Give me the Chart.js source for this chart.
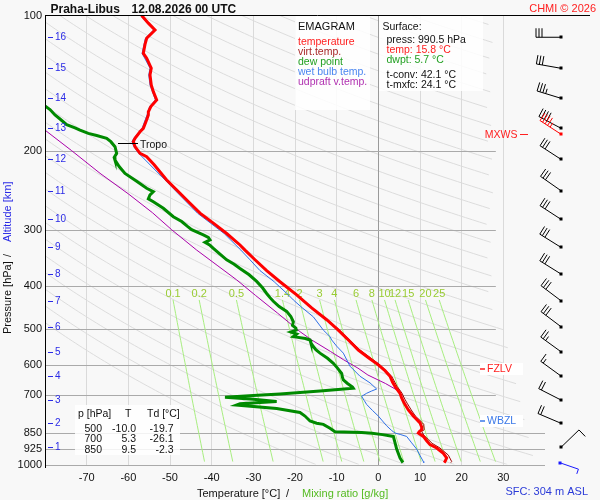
<!DOCTYPE html>
<html>
<head>
<meta charset="utf-8">
<title>Praha-Libus emagram</title>
<script src="https://cdn.jsdelivr.net/npm/chart.js@4.4.1/dist/chart.umd.min.js"></script>
<style>
  html, body { margin: 0; padding: 0; background: #f8f8f8; }
  canvas { display: block; }
</style>
</head>
<body>
<canvas id="emagram" width="600" height="500"></canvas>
<script>
// ---- sounding data (pressure hPa / temperature degC) ----
const tempP = [100,104,107.7,112.4,116,121.4,124.5,131,135.7,142.8,147.8,154.2,159.5,163.8,166.5,170.7,178.4,181.5,187.7,190.9,195.9,202.8,206.2,215,232.4,248.8,262,275.6,290,305.9,324.4,333,350,370,391.7,419,448,476,500,530,556,580,600,618,636,655,670,694,711,730,756,780,808,825,837,845,851,866,885,903,919,944,967,985,990.5];
const tempT = [-56.8,-55.2,-53.6,-55.6,-56.0,-56.4,-55.6,-54.5,-54.8,-54.5,-54.0,-53.2,-54.6,-55.2,-55.2,-55.6,-56.4,-57.2,-58.4,-58.8,-58.4,-57.2,-55.6,-53.8,-50.8,-47.6,-45.2,-42.8,-39.6,-36.4,-33.2,-32.0,-29.6,-26.8,-23.6,-19.6,-16.0,-12.4,-9.8,-7.0,-4.8,-2.2,0.0,1.6,2.8,3.4,4.0,5.2,5.6,6.2,7.2,8.4,10.0,10.4,10.4,9.8,9.6,10.8,11.6,12.4,14.0,15.6,16.4,16.0,15.8];

const virtP = [333,350,370,391.7,419,448,476,500,530,556,600,636,670,694,711,730,756,780,808,814,837,844,860,880,897,919,953,985,990.5];
const virtT = [-31.9,-29.5,-26.7,-23.4,-19.4,-15.8,-12.2,-9.5,-6.7,-4.4,0.4,3.2,4.5,5.7,6.2,6.9,7.9,8.9,10.6,10.9,11.0,10.4,10.9,12.0,12.9,14.8,16.8,17.6,17.4];

const dewP = [152,159,162,166.5,170,175,178,180,183,185,187.7,191,196,202.8,207,210,217,224.8,234,242.6,246.9,251,256,260,268.8,280.6,287.7,295,300,308,312,316,320,325,330,340,350,358,366,378,391,404,416,425,433,445,456,468,481,490,497,502,507,512,519,524,528,536,546,555,565,580,595,610,627,640,648,660,672,676.5,686,696.6,702,708.6,715.7,724,732.5,737,750,766,780,800,809,814,830,845,849,852,858,866,894,924,967,990.5];
const dewT = [-83.5,-80.0,-78.8,-77.6,-76.4,-74.8,-72.8,-71.6,-69.6,-67.6,-65.2,-64.2,-63.2,-62.8,-63.4,-63.2,-62.2,-60.8,-58.0,-55.6,-54.0,-54.8,-55.2,-54.0,-51.6,-49.2,-47.2,-45.8,-44.8,-42.0,-40.8,-40.4,-41.6,-40.4,-39.6,-38.0,-36.4,-34.6,-33.2,-31.0,-29.2,-27.8,-26.8,-26.0,-25.2,-23.8,-22.0,-21.0,-20.4,-20.6,-19.8,-19.7,-21.0,-19.6,-20.4,-17.5,-16.4,-16.2,-15.6,-15.0,-14.0,-12.2,-10.8,-9.8,-8.8,-8.6,-8.4,-7.4,-6.2,-6.0,-14.0,-23.6,-30.0,-36.8,-30.0,-24.4,-33.2,-34.0,-24.4,-18.8,-17.6,-16.4,-14.8,-13.2,-11.6,-10.4,-4.0,-1.5,1.0,3.6,4.0,4.4,5.2,5.9];

const wetP = [100,107.7,112.4,121.4,131,135.7,142.8,154.2,159.5,166.5,178.4,187.7,190.9,195.9,202.8,232.4,248.8,275.6,305.9,333,350,370,391.7,419,430,445,469,502,519,528,545,565,604,636,658,679,686,694,705,720,735,758,780,800,820,840,851,858,866,895,924,955,985,990.5];
const wetT = [-57.1,-53.9,-55.9,-56.7,-54.8,-55.1,-54.8,-53.5,-54.9,-55.5,-56.7,-58.7,-59.1,-58.7,-57.5,-51.2,-48.1,-43.4,-37.0,-33.0,-30.8,-28.4,-25.0,-21.6,-20.4,-18.6,-15.6,-13.2,-11.6,-11.2,-10.0,-8.4,-6.8,-4.4,-2.0,-0.4,-1.6,-2.8,-4.0,-3.4,-2.8,-1.4,0.0,1.0,2.0,3.2,4.0,5.4,6.8,8.0,9.2,10.0,10.8,10.9];

const updP = [165,180,200,224.6,250,275,300,333,360,388,420,460,506,528,560,584,610,632,660,682,690];
const updT = [-85.0,-80.0,-73.6,-66.8,-59.9,-54.2,-49.6,-43.6,-38.7,-34.0,-29.5,-24.2,-18.8,-16.0,-11.5,-8.4,-4.9,-2.5,1.7,4.4,5.0];

// axes
const xTicks = [-70, -60, -50, -40, -30, -20, -10, 0, 10, 20, 30];
const pTicks = [100, 200, 300, 400, 500, 600, 700, 850, 925, 1000];

// altitude marks (km) and the pressure they sit at
const altKm = [1, 2, 3, 4, 5, 6, 7, 8, 9, 10, 11, 12, 13, 14, 15, 16];
const altP = [915.6, 809.5, 718.4, 635.3, 560.9, 493.3, 431.8, 376.5, 328.4, 284.4, 245.6, 209.1, 178.3, 152.9, 131.1, 111.8];

// wind at each km level: direction (deg) and speed (kt)
const windDir = [46, 293, 297, 306, 306, 307, 307, 302, 302, 303, 305, 303, 298, 287, 280, 270];
const windSpd = [10, 20, 20, 15, 25, 30, 30, 30, 30, 30, 30, 30, 40, 35, 30, 30];
const sfcWind = { p: 990.5, dir: 109, spd: 3 };
const maxWind = { p: 183.8, dir: 303, spd: 45 };

// mixing ratio lines (g/kg)
const mixRatios = [0.1, 0.2, 0.5, 1.4, 2, 3, 4, 6, 8, 10, 12, 15, 20, 25];

// levels
const tropoP = 192.6;
const fzlvP = 614;
const wbzlP = 799;

// surface info and table
const sfcPress = 990.5, sfcTemp = 15.8, sfcDwpt = 5.7, tConv = 42.1, tMxfc = 24.1;
const tableP = [500, 700, 850];
const tableT = [-10.0, 5.3, 9.5];
const tableTd = [-19.7, -26.1, -2.3];

const FONT = '"Liberation Sans", Arial, sans-serif';

function pts(ps, ts) {
  return ps.map((p, i) => ({ x: ts[i], y: p }));
}

// temperature of a mixing-ratio line at pressure p
function mixT(w, p) {
  const e = w * p / (622 + w);
  const l = Math.log(e / 6.112);
  return 243.5 * l / (17.67 - l);
}

function barb(ctx, x0, y0, dir, spd, color, len) {
  const r = dir * Math.PI / 180;
  const ux = Math.sin(r), uy = -Math.cos(r);
  const bx = -uy, by = ux;
  const tx = x0 + ux * len, ty = y0 + uy * len;
  ctx.strokeStyle = color;
  ctx.fillStyle = color;
  ctx.lineWidth = 1;
  ctx.beginPath();
  ctx.moveTo(x0, y0);
  ctx.lineTo(tx, ty);
  let s = Math.round(spd / 5) * 5, pos = 0;
  while (s >= 10) {
    const px = tx - ux * pos, py = ty - uy * pos;
    ctx.moveTo(px, py);
    ctx.lineTo(px + bx * 9, py + by * 9);
    pos += 3;
    s -= 10;
  }
  if (s >= 5) {
    const px = tx - ux * pos, py = ty - uy * pos;
    ctx.moveTo(px, py);
    ctx.lineTo(px + bx * 5, py + by * 5);
  }
  ctx.stroke();
  ctx.fillRect(Math.round(x0) - 1.5, Math.round(y0) - 1.5, 3, 3);
}

const emagramPlugin = {
  id: 'emagram',
  beforeDraw(chart) {
    const { ctx, chartArea: a, scales: { x, y } } = chart;
    ctx.save();
    ctx.fillStyle = '#f8f8f8';
    ctx.fillRect(0, 0, chart.width, chart.height);

    // grey diagonal guide lines
    ctx.beginPath();
    ctx.rect(a.left, a.top, a.right - a.left, a.bottom - a.top);
    ctx.clip();
    ctx.strokeStyle = '#dcdcdc';
    ctx.lineWidth = 1;
    for (let c = 150; c < 1300; c *= Math.exp(0.0668)) {
      ctx.beginPath();
      let first = true;
      for (let lp = 2; lp <= 3.0001; lp += 0.005) {
        const p = Math.pow(10, lp);
        const t = c * Math.pow(p / 1000, 0.78) - 165;
        const tmax = p <= 400 ? 27.5 : 27.5 + 10.5 * Math.log(p / 400) / Math.log(2.5);
        if (t > tmax) break;
        const px = x.getPixelForValue(t), py = y.getPixelForValue(p);
        if (first) { ctx.moveTo(px, py); first = false; } else ctx.lineTo(px, py);
      }
      ctx.stroke();
    }
    ctx.restore();
  },
  beforeDatasetsDraw(chart) {
    const { ctx, chartArea: a, scales: { x, y } } = chart;
    ctx.save();
    // pressure lines
    ctx.strokeStyle = '#aaaaaa';
    ctx.lineWidth = 1;
    pTicks.slice(1).forEach(p => {
      const py = Math.round(y.getPixelForValue(p)) + 0.5;
      ctx.beginPath();
      ctx.moveTo(a.left, py);
      ctx.lineTo(p >= 850 ? a.right : x.getPixelForValue(28.2), py);
      ctx.stroke();
    });

    // mixing ratio lines
    ctx.strokeStyle = '#a8ee80';
    ctx.fillStyle = '#99cc33';
    ctx.font = '11px ' + FONT;
    ctx.textAlign = 'center';
    ctx.textBaseline = 'middle';
    mixRatios.forEach(w => {
      ctx.beginPath();
      for (let lp = Math.log10(430); lp <= 3.0001; lp += 0.01) {
        const p = Math.pow(10, lp);
        const px = x.getPixelForValue(mixT(w, p)), py = y.getPixelForValue(p);
        if (lp === Math.log10(430)) ctx.moveTo(px, py); else ctx.lineTo(px, py);
      }
      ctx.stroke();
      ctx.fillText(String(w), x.getPixelForValue(mixT(w, 430)), y.getPixelForValue(430) - 6);
    });

    // boxes
    ctx.fillStyle = 'rgba(255,255,255,0.85)';
    ctx.fillRect(295, 16, 75, 94);
    ctx.fillRect(379, 16, 104, 75);
    ctx.fillRect(75, 405, 105, 50);
    ctx.restore();
  },
  afterDraw(chart) {
    const { ctx, chartArea: a, scales: { x, y } } = chart;
    ctx.save();

    // frame
    ctx.strokeStyle = '#000';
    ctx.lineWidth = 1;
    ctx.beginPath();
    ctx.moveTo(a.left, 15.5);
    ctx.lineTo(590, 15.5);
    ctx.moveTo(a.left + 0.5, 15);
    ctx.lineTo(a.left + 0.5, 468);
    ctx.stroke();

    // title
    ctx.fillStyle = '#111';
    ctx.font = 'bold 12px ' + FONT;
    ctx.textAlign = 'left';
    ctx.textBaseline = 'alphabetic';
    ctx.fillText('Praha-Libus', 50.5, 12.5);
    ctx.fillText('12.08.2026 00 UTC', 131.5, 12.5);
    ctx.font = '11px ' + FONT;
    ctx.fillStyle = '#ff2020';
    ctx.textAlign = 'right';
    ctx.fillText('CHMI \u00a9 2026', 596, 11.5);

    // axis titles
    ctx.textAlign = 'left';
    ctx.font = '11px ' + FONT;
    ctx.fillStyle = '#111';
    ctx.fillText('Temperature [\u00b0C]', 197, 497);
    ctx.fillText('/', 286, 497);
    ctx.fillStyle = '#55bb22';
    ctx.fillText('Mixing ratio [g/kg]', 302, 497);
    ctx.save();
    ctx.translate(10.5, 334);
    ctx.rotate(-Math.PI / 2);
    ctx.fillStyle = '#111';
    ctx.fillText('Pressure [hPa]', 0, 0);
    ctx.fillText('/', 77, 0);
    ctx.fillStyle = '#2a2ae6';
    ctx.fillText('Altitude [km]', 92, 0);
    ctx.restore();

    ctx.fillStyle = '#2a3ad8';
    ctx.textAlign = 'right';
    ctx.fillText('SFC: 304 m ASL', 588, 495);

    // altitude marks
    ctx.font = '10px ' + FONT;
    ctx.textAlign = 'left';
    ctx.textBaseline = 'middle';
    ctx.fillStyle = '#2a2ae6';
    ctx.strokeStyle = '#2a2ae6';
    altKm.forEach((k, i) => {
      const py = Math.round(y.getPixelForValue(altP[i])) + 0.5;
      ctx.beginPath();
      ctx.moveTo(48, py);
      ctx.lineTo(53, py);
      ctx.stroke();
      ctx.fillText(String(k), 55, py);
    });

    // tropopause
    const ty = Math.round(y.getPixelForValue(tropoP)) + 0.5;
    ctx.strokeStyle = '#000';
    ctx.beginPath();
    ctx.moveTo(118, ty);
    ctx.lineTo(138, ty);
    ctx.stroke();
    ctx.fillStyle = '#111';
    ctx.font = '10.5px ' + FONT;
    ctx.fillText('Tropo', 140, ty + 1.5);

    // level labels
    function levelLabel(p, txt, color) {
      const py = Math.round(y.getPixelForValue(p));
      ctx.fillStyle = '#ffffff';
      ctx.fillRect(480, py - 6, 43, 12);
      ctx.strokeStyle = color;
      ctx.lineWidth = 1.5;
      ctx.beginPath();
      ctx.moveTo(480, py);
      ctx.lineTo(485, py);
      ctx.stroke();
      ctx.fillStyle = color;
      ctx.textAlign = 'left';
      ctx.fillText(txt, 487, py + 0.5);
    }
    levelLabel(fzlvP, 'FZLV', '#ff2020');
    levelLabel(wbzlP, 'WBZL', '#3a78e8');

    const my = Math.round(y.getPixelForValue(maxWind.p)) + 0.5;
    ctx.fillStyle = '#ff2020';
    ctx.textAlign = 'right';
    ctx.fillText('MXWS', 517.5, my + 1);
    ctx.strokeStyle = '#ff2020';
    ctx.lineWidth = 1;
    ctx.beginPath();
    ctx.moveTo(520, my);
    ctx.lineTo(528, my);
    ctx.stroke();

    // wind barbs
    const wx = a.right + 16;
    altKm.forEach((k, i) => {
      barb(ctx, wx, y.getPixelForValue(altP[i]), windDir[i], windSpd[i], '#000', 25);
    });
    barb(ctx, wx, y.getPixelForValue(maxWind.p), maxWind.dir, maxWind.spd, '#ff0000', 25);
    barb(ctx, wx - 1.5, y.getPixelForValue(sfcWind.p), sfcWind.dir, sfcWind.spd, '#1a1aff', 20);

    // legend box
    ctx.textAlign = 'left';
    ctx.textBaseline = 'alphabetic';
    ctx.font = '11px ' + FONT;
    ctx.fillStyle = '#111';
    ctx.fillText('EMAGRAM', 298, 29.5);
    ctx.font = '10.5px ' + FONT;
    const legend = [
      ['temperature', '#ff2020'],
      ['virt.temp.', '#a82828'],
      ['dew point', '#22a022'],
      ['wet bulb temp.', '#4a86f0'],
      ['udpraft v.temp.', '#b030b0']
    ];
    legend.forEach((l, i) => {
      ctx.fillStyle = l[1];
      ctx.fillText(l[0], 298, 45 + i * 10);
    });

    // surface box
    ctx.fillStyle = '#111';
    ctx.fillText('Surface:', 382.5, 30);
    ctx.fillText('press: ' + sfcPress.toFixed(1) + ' hPa', 386.5, 42.5);
    ctx.fillStyle = '#ff2020';
    ctx.fillText('temp: ' + sfcTemp.toFixed(1) + ' \u00b0C', 386.5, 52.5);
    ctx.fillStyle = '#22a022';
    ctx.fillText('dwpt: ' + sfcDwpt.toFixed(1) + ' \u00b0C', 386.5, 62.5);
    ctx.fillStyle = '#111';
    ctx.fillText('t-conv: ' + tConv.toFixed(1) + ' \u00b0C', 386.5, 77.5);
    ctx.fillText('t-mxfc: ' + tMxfc.toFixed(1) + ' \u00b0C', 386.5, 87.5);

    // level table
    ctx.fillText('p [hPa]', 78, 417);
    ctx.fillText('T', 125, 417);
    ctx.fillText('Td [\u00b0C]', 147, 417);
    ctx.textAlign = 'right';
    tableP.forEach((p, i) => {
      const by = 432 + i * 10.3;
      ctx.fillText(String(p), 102, by);
      ctx.fillText(tableT[i].toFixed(1), 136, by);
      ctx.fillText(tableTd[i].toFixed(1), 173.5, by);
    });
    ctx.restore();
  }
};

const common = { showLine: true, pointRadius: 0, fill: false, tension: 0, clip: 0 };

new Chart(document.getElementById('emagram'), {
  type: 'scatter',
  data: {
    datasets: [
      Object.assign({ label: 'temperature', data: pts(tempP, tempT), borderColor: '#ff0000', borderWidth: 3 }, common),
      Object.assign({ label: 'dew point', data: pts(dewP, dewT), borderColor: '#008a00', borderWidth: 3 }, common),
      Object.assign({ label: 'virt.temp.', data: pts(virtP, virtT), borderColor: '#a00000', borderWidth: 1 }, common),
      Object.assign({ label: 'wet bulb temp.', data: pts(wetP, wetT), borderColor: '#2f70e6', borderWidth: 1 }, common),
      Object.assign({ label: 'udpraft v.temp.', data: pts(updP, updT), borderColor: '#aa00aa', borderWidth: 1 }, common)
    ]
  },
  options: {
    responsive: false,
    animation: false,
    devicePixelRatio: 1,
    layout: { padding: { top: 15.5, right: 55, bottom: 0.5, left: 0 } },
    plugins: { legend: { display: false }, tooltip: { enabled: false } },
    scales: {
      x: {
        type: 'linear',
        min: -80,
        max: 40,
        afterBuildTicks: s => { s.ticks = xTicks.map(v => ({ value: v })); },
        afterFit: s => { s.height = 35; },
        border: { display: false },
        grid: {
          drawTicks: false,
          color: c => (c.tick && c.tick.value === 0 ? '#9a9a9a' : '#dadada'),
          lineWidth: 1
        },
        ticks: {
          autoSkip: false,
          maxRotation: 0,
          padding: 7,
          color: '#111',
          font: { family: FONT, size: 11 },
          callback: v => String(v)
        }
      },
      y: {
        type: 'logarithmic',
        reverse: true,
        min: 100,
        max: 1000,
        afterBuildTicks: s => { s.ticks = pTicks.map(v => ({ value: v })); },
        afterFit: s => { s.width = 45; },
        border: { display: false },
        grid: { display: false, drawTicks: false },
        ticks: {
          autoSkip: false,
          padding: 3,
          color: '#111',
          font: { family: FONT, size: 11 },
          callback: v => String(v)
        }
      }
    }
  },
  plugins: [emagramPlugin]
});
</script>
</body>
</html>
